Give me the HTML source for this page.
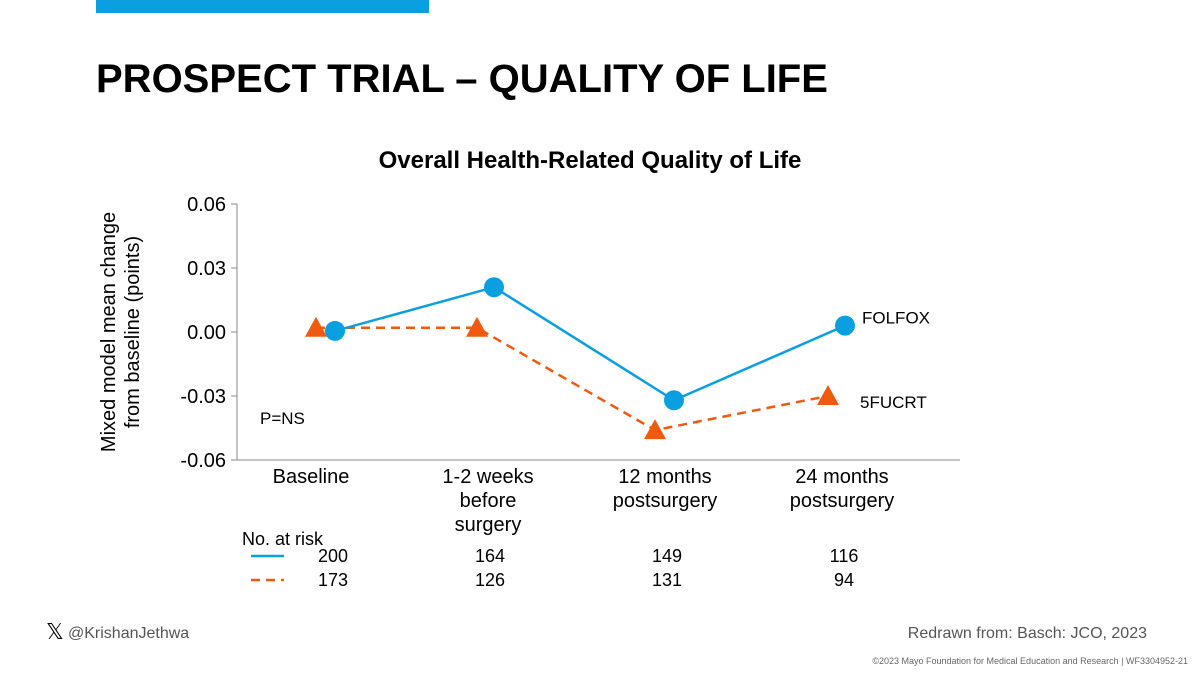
<!DOCTYPE html>
<html><head><meta charset="utf-8"><style>
body{margin:0;width:1200px;height:675px;background:#fff;overflow:hidden;font-family:"Liberation Sans",Arial,sans-serif;}
</style></head><body>
<svg id="c" width="1200" height="675" xmlns="http://www.w3.org/2000/svg" style="position:absolute;left:0;top:0" font-family="Liberation Sans, Arial, sans-serif">
<rect x="96" y="0" width="333" height="13" fill="#0a9fe0"/>
<text x="96" y="92" font-size="40" font-weight="bold" fill="#000">PROSPECT TRIAL – QUALITY OF LIFE</text>
<text x="590" y="168" font-size="24" font-weight="bold" text-anchor="middle" fill="#000">Overall Health-Related Quality of Life</text>
<text transform="translate(118,332) rotate(-90)" font-size="20" text-anchor="middle" fill="#000"><tspan x="0" dy="-3">Mixed model mean change</tspan><tspan x="0" dy="24">from baseline (points)</tspan></text>
<g id="axes"></g>
<g id="series"></g>
<text x="260" y="424" font-size="17" fill="#000">P=NS</text>
<text x="242" y="545" font-size="18" fill="#000">No. at risk</text>
<line x1="251" y1="556" x2="284" y2="556" stroke="#0a9fe0" stroke-width="2.5"/>
<line x1="251" y1="580" x2="284" y2="580" stroke="#f05a0e" stroke-width="2.5" stroke-dasharray="9,6"/>
<g id="risk"></g>
<text x="46" y="639" font-size="22" fill="#000">𝕏</text>
<text x="68" y="638" font-size="16" fill="#555">@KrishanJethwa</text>
<text x="1147" y="638" font-size="16" fill="#555" text-anchor="end">Redrawn from: Basch: JCO, 2023</text>
<text x="1188" y="664" font-size="9" fill="#666" text-anchor="end">©2023 Mayo Foundation for Medical Education and Research  |  WF3304952-21</text>
</svg>
<script>
const categories=[["Baseline"],["1-2 weeks","before","surgery"],["12 months","postsurgery"],["24 months","postsurgery"]];
const folfox=[0.0005,0.021,-0.032,0.003];
const fucrt=[0.002,0.002,-0.046,-0.030];
const yTicks=[0.06,0.03,0.00,-0.03,-0.06];
const yTickLabels=["0.06","0.03","0.00","-0.03","-0.06"];
const riskFolfox=[200,164,149,116];
const riskFucrt=[173,126,131,94];
const NS="http://www.w3.org/2000/svg";
const catX=[311,488,665,842];
const xs=i=>catX[i];
const ys=v=>332-(v/0.06)*128;
function mk(t,a,p){const e=document.createElementNS(NS,t);for(const k in a)e.setAttribute(k,a[k]);p.appendChild(e);return e;}
const ax=document.getElementById('axes');
let e=mk('line',{x1:237,y1:ys(0.06),x2:237,y2:ys(-0.06),stroke:'#888','stroke-width':1},ax);


e=mk('line',{x1:237,y1:ys(-0.06),x2:960,y2:ys(-0.06),stroke:'#888','stroke-width':1},ax);


yTicks.forEach((v,i)=>{
 mk('line',{x1:231,y1:ys(v),x2:237,y2:ys(v),stroke:'#888'},ax);
 const t=mk('text',{x:226,y:ys(v)+7,'font-size':20,'text-anchor':'end',fill:'#000'},ax);
 t.textContent=yTickLabels[i];
 
 
});
categories.forEach((lines,i)=>{
 const t=mk('text',{x:xs(i),y:483,'font-size':20,'text-anchor':'middle',fill:'#000'},ax);
 
 
 lines.forEach((l,j)=>{const s=mk('tspan',{x:xs(i),dy:j?24:0},t);s.textContent=l;});
});
const sg=document.getElementById('series');
const cOff=[24,6,9,3], tOff=[5,-11,-10,-14];
const fpts=folfox.map((v,i)=>[xs(i)+cOff[i],ys(v)]);
const tpts=fucrt.map((v,i)=>[xs(i)+tOff[i],ys(v)]);
e=mk('polyline',{points:tpts.map(p=>p.join(',')).join(' '),fill:'none',stroke:'#f05a0e','stroke-width':2.5,'stroke-dasharray':'9,6'},sg);


e=mk('polyline',{points:fpts.map(p=>p.join(',')).join(' '),fill:'none',stroke:'#0a9fe0','stroke-width':2.5},sg);


tpts.forEach(p=>{
 const m=mk('polygon',{points:`${p[0]},${p[1]-11} ${p[0]-11},${p[1]+9} ${p[0]+11},${p[1]+9}`,fill:'#f05a0e'},sg);
 
 
});
fpts.forEach(p=>{
 const m=mk('circle',{cx:p[0],cy:p[1],r:10,fill:'#0a9fe0'},sg);
 
 
});
e=mk('text',{x:862,y:ys(folfox[3])-2,'font-size':17,fill:'#000'},sg);
e.textContent='FOLFOX';


e=mk('text',{x:860,y:ys(fucrt[3])+12,'font-size':17,fill:'#000'},sg);
e.textContent='5FUCRT';


const rg=document.getElementById('risk');
[riskFolfox,riskFucrt].forEach((arr,r)=>arr.forEach((v,i)=>{
 const t=mk('text',{x:i==0?333:xs(i)+2,y:562+r*24,'font-size':18,'text-anchor':'middle',fill:'#000'},rg);
 t.textContent=v;
 
 
}));
</script>
</body></html>
